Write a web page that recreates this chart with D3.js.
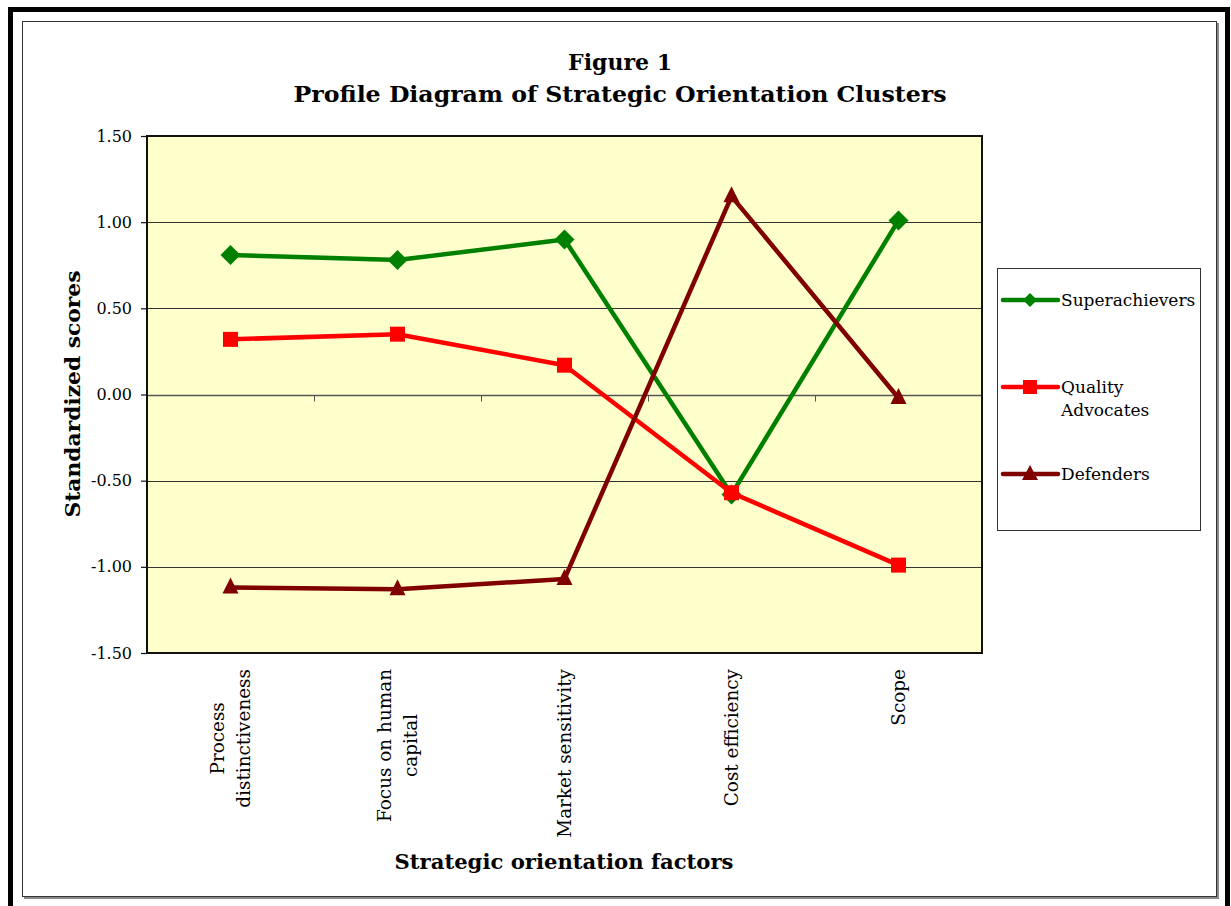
<!DOCTYPE html>
<html>
<head>
<meta charset="utf-8">
<script src="https://cdn.jsdelivr.net/npm/d3@7"></script>
<style>
  html, body { margin: 0; padding: 0; background: #fff; }
  svg { display: block; }
  text { font-family: "DejaVu Serif", "Liberation Serif", serif; fill: #000; }
</style>
</head>
<body>
<svg id="chart" width="1231" height="906"></svg>
<script>
// Cluster profiles on the five strategic orientation factors
const categories = [
  ["Process", "distinctiveness"],
  ["Focus on human", "capital"],
  ["Market sensitivity"],
  ["Cost efficiency"],
  ["Scope"]
];
const seriesNames = [["Superachievers"], ["Quality", "Advocates"], ["Defenders"]];
const superachievers = [0.81, 0.78, 0.90, -0.58, 1.01];
const qualityAdvocates = [0.32, 0.35, 0.17, -0.57, -0.99];
const defenders = [-1.12, -1.13, -1.07, 1.15, -0.02];
const yTicks = [1.5, 1.0, 0.5, 0.0, -0.5, -1.0, -1.5];

const series = [
  { name: seriesNames[0], values: superachievers, color: "#008000", marker: "diamond" },
  { name: seriesNames[1], values: qualityAdvocates, color: "#FF0000", marker: "square" },
  { name: seriesNames[2], values: defenders, color: "#800000", marker: "triangle" }
];

const svg = d3.select("#chart");

// Frames around the figure
svg.append("rect").attr("x", 10.5).attr("y", 9.5).attr("width", 1217).attr("height", 920)
  .attr("fill", "none").attr("stroke", "#000").attr("stroke-width", 5);
svg.append("rect").attr("x", 24).attr("y", 23).attr("width", 1195).attr("height", 876)
  .attr("fill", "#888");
svg.append("rect").attr("x", 22.5).attr("y", 21.5).attr("width", 1194).attr("height", 875)
  .attr("fill", "#fff").attr("stroke", "#333").attr("stroke-width", 1);

// Plot area
const plot = { left: 147, top: 136, right: 982, bottom: 653 };
const x = d3.scaleBand().domain(d3.range(categories.length)).range([plot.left, plot.right]);
const y = d3.scaleLinear().domain([-1.5, 1.5]).range([plot.bottom, plot.top]);

svg.append("rect").attr("x", plot.left).attr("y", plot.top)
  .attr("width", plot.right - plot.left).attr("height", plot.bottom - plot.top)
  .attr("fill", "#FFFFCC");

// Horizontal gridlines
svg.append("g").selectAll("line").data(yTicks.filter(t => t !== 1.5 && t !== -1.5 && t !== 0))
  .join("line")
  .attr("x1", plot.left).attr("x2", plot.right)
  .attr("y1", d => Math.round(y(d)) + 0.5).attr("y2", d => Math.round(y(d)) + 0.5)
  .attr("stroke", "#333").attr("stroke-width", 1);

// Category axis sits on the zero line
const zeroY = Math.round(y(0)) + 0.5;
svg.append("line").attr("x1", plot.left).attr("x2", plot.right)
  .attr("y1", zeroY).attr("y2", zeroY).attr("stroke", "#555").attr("stroke-width", 1.5);
svg.append("g").selectAll("line").data(d3.range(1, categories.length))
  .join("line")
  .attr("x1", d => Math.round(x(d)) + 0.5).attr("x2", d => Math.round(x(d)) + 0.5)
  .attr("y1", zeroY).attr("y2", zeroY + 6)
  .attr("stroke", "#555").attr("stroke-width", 1);

// Plot area border
svg.append("rect").attr("x", plot.left).attr("y", plot.top)
  .attr("width", plot.right - plot.left).attr("height", plot.bottom - plot.top)
  .attr("fill", "none").attr("stroke", "#111").attr("stroke-width", 2);

// Value axis (plain hyphen for negatives)
const fmt = d3.format(".2f");
const yAxis = d3.axisLeft(y).tickValues(yTicks)
  .tickFormat(d => fmt(d).replace("\u2212", "-"))
  .tickSize(6).tickPadding(9);
const yg = svg.append("g").attr("transform", `translate(${plot.left},0)`).call(yAxis);
yg.select(".domain").remove();
yg.selectAll(".tick line").attr("stroke", "#111").attr("stroke-width", 1.2);
yg.selectAll(".tick text").attr("font-size", 16).attr("font-family", "DejaVu Serif").attr("fill", "#000");

// Rotated category labels, top-aligned under the plot, lines centred on one another
const lineGap = 26;
categories.forEach((lines, i) => {
  const cx = x(i) + x.bandwidth() / 2;
  const g = svg.append("g").attr("transform", `translate(${cx},${plot.bottom + 16}) rotate(-90)`);
  const n = lines.length;
  const texts = lines.map((ln, j) => g.append("text")
    .attr("font-size", 18.4)
    .attr("y", -(n - 1) * lineGap / 2 + j * lineGap + 6)
    .attr("text-anchor", "middle")
    .text(ln));
  const maxLen = d3.max(texts, t => t.node().getComputedTextLength());
  texts.forEach(t => t.attr("x", -maxLen / 2));
});

// Series lines and markers
const line = d3.line().x((d, i) => x(i) + x.bandwidth() / 2).y(d => y(d));
function markerPath(type) {
  if (type === "diamond") return "M0,-10L10,0L0,10L-10,0Z";
  if (type === "square") return "M-7.5,-7.5H7.5V7.5H-7.5Z";
  return "M0,-10L8,6L-8,6Z";
}
series.forEach(s => {
  svg.append("path").datum(s.values).attr("d", line)
    .attr("fill", "none").attr("stroke", s.color).attr("stroke-width", 4.5)
    .attr("stroke-linejoin", "round");
  svg.append("g").selectAll("path").data(s.values).join("path")
    .attr("transform", (d, i) => `translate(${x(i) + x.bandwidth() / 2},${y(d)})`)
    .attr("d", markerPath(s.marker)).attr("fill", s.color);
});

// Legend
const legend = { x: 997, y: 268, w: 203, h: 262 };
svg.append("rect").attr("x", legend.x + 0.5).attr("y", legend.y + 0.5)
  .attr("width", legend.w).attr("height", legend.h)
  .attr("fill", "#fff").attr("stroke", "#333").attr("stroke-width", 1);
const legendRows = [300, 387, 474];
series.forEach((s, i) => {
  const ly = legendRows[i];
  svg.append("line").attr("x1", 1003).attr("x2", 1058).attr("y1", ly).attr("y2", ly)
    .attr("stroke", s.color).attr("stroke-width", 4.5).attr("stroke-linecap", "round");
  svg.append("path").attr("transform", `translate(1030,${ly})`)
    .attr("d", s.marker === "diamond" ? "M0,-7L7,0L0,7L-7,0Z"
      : s.marker === "square" ? "M-7,-7H7V7H-7Z" : "M0,-9L8,6L-8,6Z")
    .attr("fill", s.color);
  s.name.forEach((ln, j) => {
    svg.append("text").attr("x", 1061).attr("y", ly + 6 + j * 23)
      .attr("font-size", 17).text(ln);
  });
});

// Titles
svg.append("text").attr("x", 620).attr("y", 70).attr("text-anchor", "middle")
  .attr("font-size", 22).attr("font-weight", "bold").text("Figure 1");
svg.append("text").attr("x", 620).attr("y", 102).attr("text-anchor", "middle")
  .attr("font-size", 22).attr("font-weight", "bold")
  .attr("textLength", 653).attr("lengthAdjust", "spacingAndGlyphs")
  .text("Profile Diagram of Strategic Orientation Clusters");

svg.append("text").attr("transform", "translate(80,394) rotate(-90)")
  .attr("text-anchor", "middle").attr("font-size", 21).attr("font-weight", "bold")
  .attr("textLength", 247).attr("lengthAdjust", "spacingAndGlyphs")
  .text("Standardized scores");

svg.append("text").attr("x", 564).attr("y", 869).attr("text-anchor", "middle")
  .attr("font-size", 21).attr("font-weight", "bold")
  .attr("textLength", 339).attr("lengthAdjust", "spacingAndGlyphs")
  .text("Strategic orientation factors");
</script>
</body>
</html>
